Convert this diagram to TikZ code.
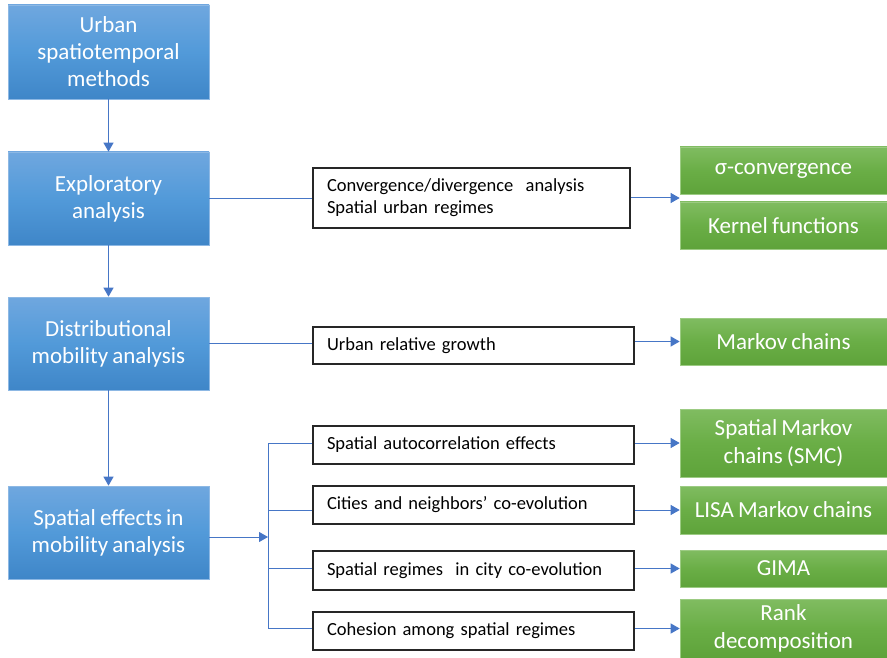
\documentclass[tikz,border=0pt]{standalone}
\usepackage{fontspec}
\setmainfont{Carlito}[WordSpace=0.8]
\usetikzlibrary{arrows.meta}
\definecolor{blueTop}{HTML}{6FA7DF}
\definecolor{blueMid}{HTML}{529AD9}
\definecolor{blueBot}{HTML}{3F86C8}
\definecolor{blueEdge}{HTML}{8DB8E4}
\definecolor{greenTop}{HTML}{80BC61}
\definecolor{greenMid}{HTML}{6AAE46}
\definecolor{greenBot}{HTML}{5EA33A}
\definecolor{greenEdge}{HTML}{9CCB83}
\definecolor{linkBlue}{HTML}{4676C6}
\begin{document}
\begin{tikzpicture}[x=1pt,y=-1pt,
    methodbox/.style={rectangle,draw=blueEdge,line width=0.6pt,top color=blueTop,bottom color=blueBot,middle color=blueMid,
      minimum width=201pt,inner sep=0pt,text=white,align=center,font=\fontsize{23}{27}\selectfont},
    topicbox/.style={rectangle,draw=black!85,line width=1.6pt,fill=white,inner xsep=14pt,inner ysep=0pt,
      text width=293pt,align=left,font=\fontsize{18.5}{22}\selectfont},
    toolbox/.style={rectangle,draw=greenEdge,line width=0.6pt,top color=greenTop,bottom color=greenBot,middle color=greenMid,
      minimum width=207pt,inner sep=0pt,text=white,align=center,font=\fontsize{23}{28}\selectfont},
    link/.style={draw=linkBlue,line width=1pt},
    arr/.style={link,-{Triangle[length=9pt,width=10pt]}}]
  \useasboundingbox (0,0) rectangle (887,658);

  % methods
  \node[methodbox,minimum height=94pt] (b1) at (108.5,52) {Urban\\spatiotemporal\\methods};
  \node[methodbox,minimum height=93pt] (b2) at (108.5,198.5) {Exploratory\\analysis};
  \node[methodbox,minimum height=93pt] (b3) at (108.5,343.5) {Distributional\\mobility analysis};
  \node[methodbox,minimum height=93pt] (b4) at (108.5,532.5) {Spatial effects in\\mobility analysis};

  % topics
  \node[topicbox,minimum height=60pt,text width=289pt] (m1) at (471.5,198) {Convergence/divergence\ \ analysis\\Spatial urban regimes};
  \node[topicbox,minimum height=37pt] (m2) at (473.5,345.5) {Urban relative growth};
  \node[topicbox,minimum height=38pt] (m3) at (473.5,445) {Spatial autocorrelation effects};
  \node[topicbox,minimum height=38pt] (m4) at (473.5,505) {Cities and neighbors’ co-evolution};
  \node[topicbox,minimum height=39pt] (m5) at (473.5,570.5) {Spatial regimes\ \ in city co-evolution};
  \node[topicbox,minimum height=38pt] (m6) at (473.5,631) {Cohesion among spatial regimes};

  % tools
  \node[toolbox,minimum height=47pt] (g1) at (783.5,170.5) {σ-convergence};
  \node[toolbox,minimum height=47pt] (g2) at (783.5,225.5) {Kernel functions};
  \node[toolbox,minimum height=47pt] (g3) at (783.5,341.5) {Markov chains};
  \node[toolbox,minimum height=68pt] (g4) at (783.5,443) {Spatial Markov\\chains (SMC)};
  \node[toolbox,minimum height=48pt] (g5) at (783.5,510) {LISA Markov chains};
  \node[toolbox,minimum height=37pt] (g6) at (783.5,568.5) {GIMA};
  \node[toolbox,minimum height=59pt] (g7) at (783.5,628.5) {Rank\\decomposition};

  \coordinate (jn) at (268,537);

  \draw[arr] (b1) -- (b2);
  \draw[arr] (b2) -- (b3);
  \draw[arr] (b3) -- (b4);

  \draw[link] (b2.east) -- (b2.east -| m1.west);
  \draw[link] (b3.east) -- (b3.east -| m2.west);
  \draw[arr] (b4.east |- jn) -- (jn);
  \draw[link] (jn |- g4) -- (jn |- g7);
  \foreach \m/\g in {m3/g4,m4/g5,m5/g6,m6/g7}
    \draw[link] (jn |- \g) -- (\g -| \m.west);

  \draw[arr] (m1.east) -- (m1.east -| g1.west);
  \foreach \m/\g in {m2/g3,m3/g4,m4/g5,m5/g6,m6/g7}
    \draw[arr] (\g.west -| \m.east) -- (\g.west);
\end{tikzpicture}
\end{document}
